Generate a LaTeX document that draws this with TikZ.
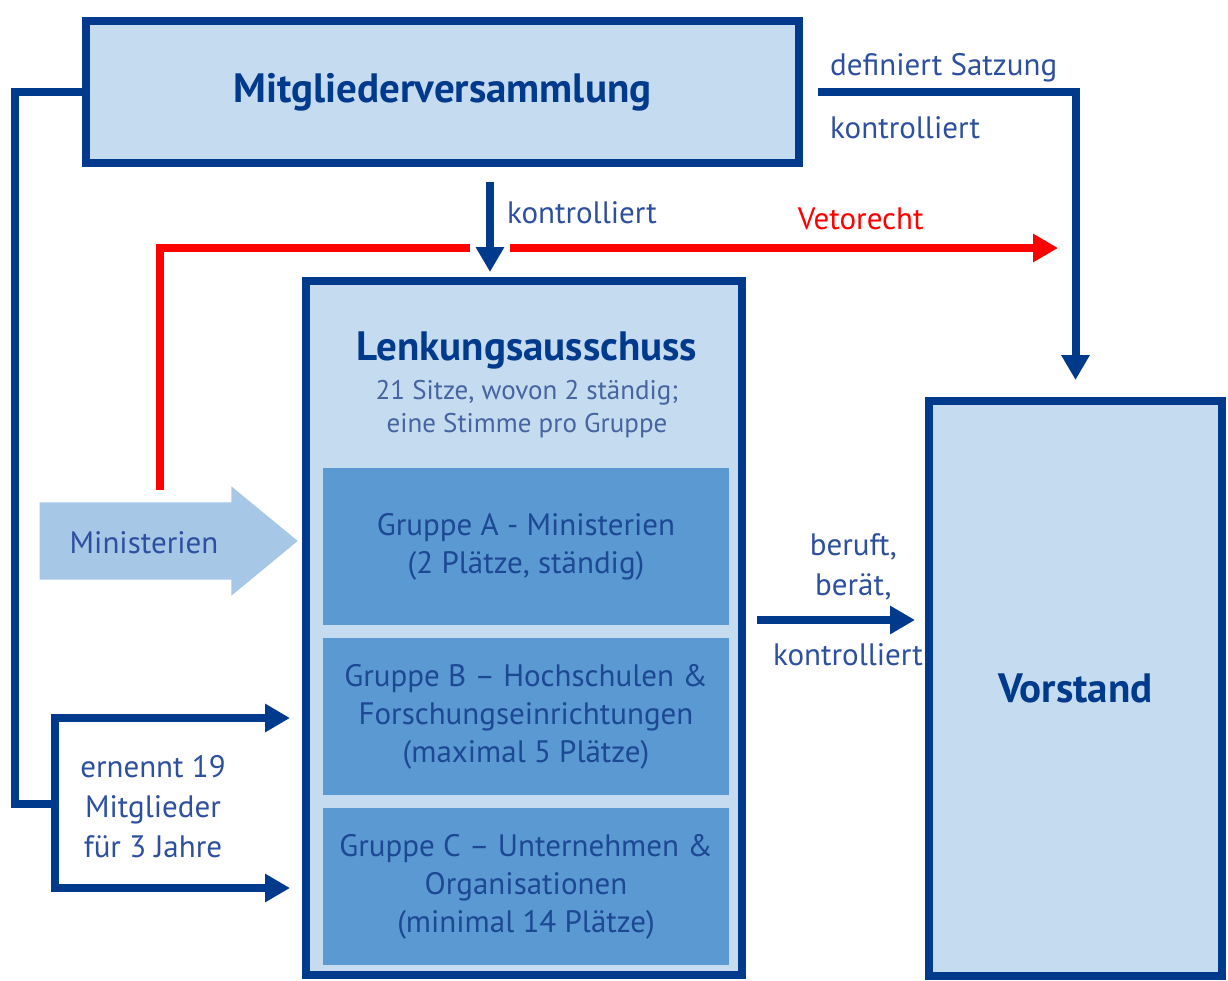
\documentclass[tikz,border=0pt]{standalone}
\usepackage{fontspec}
\setmainfont{PT Sans}
\usetikzlibrary{arrows.meta,shapes.arrows}

\definecolor{navy}{RGB}{0,58,140}
\definecolor{paleblue}{RGB}{197,219,239}
\definecolor{midblue}{RGB}{91,153,210}
\definecolor{arrowblue}{RGB}{166,199,230}
\definecolor{textblue}{RGB}{45,79,159}
\definecolor{greyblue}{RGB}{70,100,160}
\definecolor{grptext}{RGB}{28,72,148}
\definecolor{vetored}{RGB}{255,0,0}

\tikzset{
  bigtip/.tip={Triangle[width=27pt,length=25pt]},
  organ/.style={draw=navy,fill=paleblue,line width=8pt,inner sep=0pt,
    text=navy,font=\fontsize{41}{48}\selectfont\bfseries},
  gruppe/.style={fill=midblue,inner sep=0pt,align=center,text=grptext,
    minimum width=406pt,minimum height=157pt,font=\fontsize{31}{38}\selectfont},
  lbl/.style={text=textblue,inner sep=0pt,align=center,font=\fontsize{31}{40}\selectfont},
  line/.style={navy,line width=8pt},
  conn/.style={line,-bigtip},
  veto/.style={vetored,line width=8pt}
}

\begin{document}
\begin{tikzpicture}[x=1pt,y=-1pt]

  \useasboundingbox (0,0) rectangle (1228,980);

  \node[organ,minimum width=713pt,minimum height=142pt] (mv) at (442.5,92)
    {Mitgliederversammlung};

  \node[organ,minimum width=436pt,minimum height=694pt] (lenk) at (524,628) {};

  \node[organ,draw=none,fill=none] (lenktitle) at (527,350) {Lenkungsausschuss};

  \node[lbl,text=greyblue,font=\fontsize{27}{33}\selectfont] (lenksub) at (527,409)
    {21 Sitze, wovon 2 ständig;\\eine Stimme pro Gruppe};

  \node[gruppe] (grpA) at (526,546.5)
    {Gruppe A - Ministerien\\(2 Plätze, ständig)};

  \node[gruppe] (grpB) at (526,716.5)
    {Gruppe B – Hochschulen \&\\Forschungseinrichtungen\\(maximal 5 Plätze)};

  \node[gruppe] (grpC) at (526,886.5)
    {Gruppe C – Unternehmen \&\\Organisationen\\(minimal 14 Plätze)};

  \node[organ,minimum width=293pt,minimum height=575pt] (vor) at (1075.5,688.5)
    {Vorstand};

  \node[single arrow,fill=arrowblue,inner sep=0pt,inner ysep=38.5pt,
    minimum height=258pt,single arrow head extend=16pt,
    single arrow tip angle=79,anchor=tip]
    (mins) at (298,541) {};

  \node[lbl] (minslbl) at (144,543) {Ministerien};

  % Vetorecht
  \coordinate (vetostart) at (160,490);
  \coordinate (gapL) at (470,248);
  \coordinate (gapR) at (510,248);
  \coordinate (vetoend) at (1058,248);

  \draw[veto] (vetostart) |- (gapL);

  \draw[veto,-bigtip] (gapR) -- (vetoend)
    node[pos=0.64,above=14pt,lbl,text=vetored]{Vetorecht};

  % Mitgliederversammlung -> Lenkungsausschuss
  \coordinate (kin) at ([xshift=47.5pt]mv.south);

  \draw[conn,shorten <=15pt,shorten >=5pt] (kin) -- (kin |- lenk.north)
    node[pos=0.42,right=13pt,lbl]{kontrolliert};

  % Mitgliederversammlung -> Vorstand
  \draw[conn,shorten <=15pt,shorten >=17pt] (mv.east) -| (vor.north);

  \node[lbl,anchor=west] at (830,68) {definiert Satzung};
  \node[lbl,anchor=west] at (830,128) {kontrolliert};

  % Lenkungsausschuss -> Vorstand
  \coordinate (bin) at ([yshift=8pt]lenk.east);

  \draw[conn,shorten <=11pt,shorten >=10pt] (bin) -- (bin -| vor.west)
    node[pos=0.6,above=16pt,lbl]{beruft,\\berät,}
    node[pos=0.57,below=20pt,lbl]{kontrolliert};

  % ernennt 19 Mitglieder
  \coordinate (loop) at (15,804);
  \coordinate (brk) at (55,804);
  \coordinate (brktop) at (55,718);
  \coordinate (brkbot) at (55,888);

  \draw[line] (mv.west) -| (loop) -- (brk);

  \draw[line,bigtip-bigtip,shorten <=12pt,shorten >=12pt]
    (brktop -| lenk.west) -- (brktop) -- (brkbot) -- (brkbot -| lenk.west);

  \node[lbl] (ernennt) at (153,807) {ernennt 19\\Mitglieder\\für 3 Jahre};

\end{tikzpicture}
\end{document}
